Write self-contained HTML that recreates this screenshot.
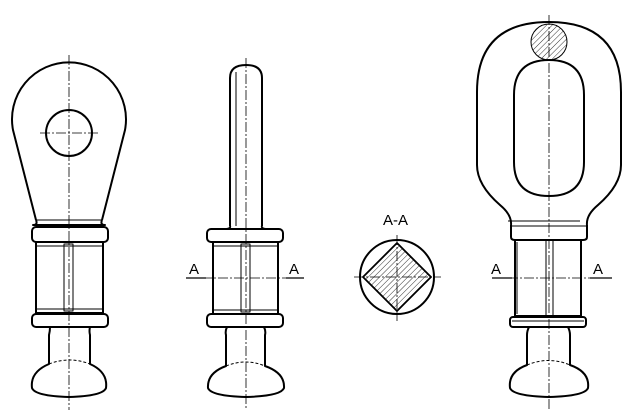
<!DOCTYPE html>
<html><head><style>body{margin:0;background:#fff}svg{display:block}text{font-family:"Liberation Sans",sans-serif;font-size:15px}</style></head>
<body>
<svg width="629" height="414" viewBox="0 0 629 414" xmlns="http://www.w3.org/2000/svg">
<defs>
<pattern id="h" width="4" height="4" patternUnits="userSpaceOnUse" patternTransform="rotate(45)">
<line x1="0" y1="0" x2="0" y2="4" stroke="#000" stroke-width="0.8"/></pattern>
</defs>
<g fill="none" stroke="#000" stroke-width="2" stroke-linejoin="round">
<!-- Figure 1 -->
<path d="M36,220 L13,130 A57,57 0 1 1 125,130 L102,220"/>
<circle cx="69" cy="133" r="23"/>
<path d="M36,220 Q38,225 33,225 L105,225 Q100,225 102,220"/>
<line x1="36" y1="220" x2="102" y2="220" stroke-width="1"/>
<rect x="32" y="227" width="76" height="15" rx="4"/>
<rect x="36" y="242" width="67" height="71"/>
<line x1="37" y1="246" x2="102" y2="246" stroke-width="1"/>
<line x1="37" y1="309" x2="102" y2="309" stroke-width="1"/>
<rect x="64" y="244" width="9" height="67" stroke-width="1"/>
<rect x="32" y="314" width="76" height="13" rx="4"/>
<path d="M50,327 Q50,331 49,335 L49,364 Q30,372 32,388 Q35,396 69,397 Q103,396 106,388 Q108,372 90,364 L90,335 Q89,331 90,327"/>
<path d="M49,364 Q69,356 90,364" stroke-width="1" stroke-dasharray="3,2"/>
<!-- Figure 2 -->
<path d="M230,226 L230,78 Q230,65 246,65 Q262,65 262,78 L262,226"/>
<line x1="236" y1="72" x2="236" y2="226" stroke-width="1"/>
<path d="M230,226 Q231,229 225,229 M262,226 Q261,229 267,229"/>
<rect x="207" y="229" width="76" height="13" rx="4"/>
<rect x="213" y="242" width="65" height="72"/>
<line x1="214" y1="246" x2="277" y2="246" stroke-width="1"/>
<line x1="214" y1="310" x2="277" y2="310" stroke-width="1"/>
<rect x="241" y="244" width="9" height="68" stroke-width="1"/>
<rect x="207" y="314" width="76" height="13" rx="4"/>
<path d="M227,327 Q225,331 226,335 L226,366 Q207,373 208,388 Q211,396 246,397 Q281,396 284,388 Q285,373 265,366 L265,335 Q266,331 264,327"/>
<path d="M226,366 Q246,358 265,366" stroke-width="1" stroke-dasharray="3,2"/>
<!-- Section -->
<circle cx="397" cy="277" r="37"/>
<path d="M397,243 L431,277 L397,311 L363,277 Z" fill="url(#h)" stroke-width="1.8"/>
<!-- Figure 3 -->
<path d="M511,225 Q512,215 500,205 Q477,185 477,165 L477,92 Q477,22 549,22 Q621,22 621,92 L621,165 Q621,185 598,205 Q586,215 587,225"/>
<path d="M514,95 Q514,60 549,60 Q584,60 584,95 L584,162 Q584,196 549,196 Q514,196 514,162 Z"/>
<circle cx="549" cy="42" r="18" fill="url(#h)" stroke-width="1"/>
<line x1="508" y1="221" x2="580" y2="221" stroke-width="1"/>
<line x1="512" y1="226" x2="586" y2="226" stroke-width="1"/>
<path d="M511,225 L511,237 Q511,240 515,240 L583,240 Q587,240 587,237 L587,225"/>
<rect x="515" y="240" width="66" height="76"/>
<line x1="517" y1="242" x2="517" y2="314" stroke-width="1"/>
<line x1="546" y1="240" x2="546" y2="316" stroke-width="1"/>
<line x1="553" y1="240" x2="553" y2="316" stroke-width="1"/>
<rect x="510" y="317" width="76" height="10" rx="3"/>
<line x1="512" y1="321" x2="584" y2="321" stroke-width="1"/>
<path d="M529,327 Q527,331 527,335 L527,365 Q508,372 510,388 Q513,396 549,397 Q585,396 588,388 Q590,372 570,365 L570,335 Q570,331 568,327"/>
<path d="M527,365 Q549,356 570,365" stroke-width="1" stroke-dasharray="3,2"/>
</g>
<!-- centerlines -->
<g stroke="#000" stroke-width="0.8" stroke-dasharray="10,2,2,2" fill="none">
<line x1="69" y1="55" x2="69" y2="410"/>
<line x1="40" y1="133" x2="100" y2="133"/>
<line x1="246" y1="58" x2="246" y2="410"/>
<line x1="186" y1="278" x2="304" y2="278"/>
<line x1="397" y1="235" x2="397" y2="321"/>
<line x1="354" y1="277" x2="441" y2="277"/>
<line x1="549" y1="15" x2="549" y2="410"/>
<line x1="492" y1="278" x2="612" y2="278"/>
</g>
<g stroke="#000" stroke-width="1.2">
<line x1="186" y1="278" x2="206" y2="278"/><line x1="286" y1="278" x2="304" y2="278"/>
<line x1="492" y1="278" x2="512" y2="278"/><line x1="590" y1="278" x2="612" y2="278"/>
</g>
<text x="189" y="274">A</text><text x="289" y="274">A</text>
<text x="491" y="274">A</text><text x="593" y="274">A</text>
<text x="383" y="225">A-A</text>
</svg>
</body></html>
